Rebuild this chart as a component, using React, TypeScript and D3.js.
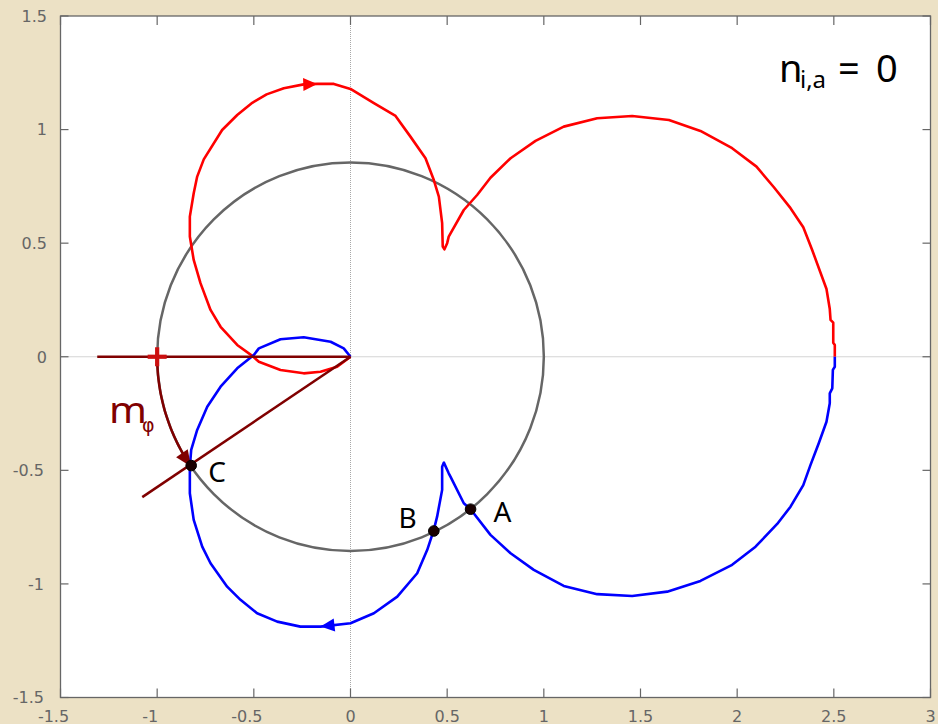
import React from 'react';
import * as d3 from 'd3';

// Axis ticks
const X_TICKS = [-1.5, -1, -0.5, 0, 0.5, 1, 1.5, 2, 2.5, 3];
const Y_TICKS = [-1.5, -1, -0.5, 0, 0.5, 1, 1.5];

// Upper trajectory (red): origin -> left loop -> top -> cusp -> large loop -> (2.5, 0)
const RED_X = [0, -0.069, -0.155, -0.242, -0.362, -0.474, -0.508, -0.586, -0.672, -0.724, -0.776, -0.811, -0.831, -0.831, -0.811, -0.793, -0.759, -0.664, -0.586, -0.508, -0.434, -0.345, -0.242, -0.172, -0.086, 0.0, 0.121, 0.233, 0.31, 0.388, 0.431, 0.457, 0.474, 0.477, 0.486, 0.5, 0.508, 0.586, 0.655, 0.724, 0.828, 0.957, 1.103, 1.276, 1.457, 1.647, 1.81, 1.974, 2.1, 2.19, 2.276, 2.342, 2.388, 2.462, 2.479, 2.483, 2.497, 2.497, 2.505, 2.505];
const RED_Y = [0, -0.044, -0.066, -0.073, -0.058, -0.022, 0.004, 0.052, 0.132, 0.206, 0.324, 0.426, 0.529, 0.617, 0.72, 0.793, 0.869, 0.998, 1.064, 1.118, 1.155, 1.182, 1.199, 1.201, 1.201, 1.179, 1.116, 1.06, 0.969, 0.874, 0.778, 0.705, 0.588, 0.485, 0.473, 0.5, 0.529, 0.646, 0.712, 0.788, 0.874, 0.95, 1.013, 1.05, 1.06, 1.042, 0.994, 0.918, 0.837, 0.746, 0.654, 0.57, 0.47, 0.298, 0.21, 0.162, 0.15, 0.062, 0.052, 0.0];

// Lower trajectory (blue): (2.5, 0) -> large loop -> cusp -> bottom -> left loop -> origin
const BLUE_X = [2.505, 2.505, 2.495, 2.492, 2.479, 2.479, 2.462, 2.422, 2.379, 2.342, 2.276, 2.207, 2.095, 1.974, 1.81, 1.638, 1.457, 1.276, 1.103, 0.948, 0.828, 0.724, 0.621, 0.586, 0.517, 0.508, 0.483, 0.474, 0.474, 0.448, 0.431, 0.397, 0.345, 0.242, 0.121, 0.0, -0.155, -0.259, -0.379, -0.483, -0.569, -0.638, -0.724, -0.767, -0.811, -0.831, -0.831, -0.824, -0.793, -0.741, -0.672, -0.586, -0.5, -0.474, -0.362, -0.242, -0.103, -0.035, 0];
const BLUE_Y = [0.0, -0.044, -0.058, -0.139, -0.161, -0.205, -0.286, -0.381, -0.477, -0.565, -0.66, -0.736, -0.836, -0.916, -0.987, -1.034, -1.053, -1.045, -1.009, -0.938, -0.865, -0.784, -0.671, -0.645, -0.528, -0.513, -0.466, -0.484, -0.586, -0.704, -0.762, -0.85, -0.953, -1.056, -1.129, -1.173, -1.188, -1.188, -1.166, -1.129, -1.07, -1.012, -0.909, -0.836, -0.718, -0.601, -0.484, -0.41, -0.322, -0.22, -0.132, -0.051, 0.008, 0.037, 0.077, 0.086, 0.066, 0.037, 0];

// Direction arrows sit on these vertices of each trajectory
const RED_ARROW_INDEX = 23;
const BLUE_ARROW_INDEX = 36;

// Reference circle semi-axes (data units)
const CIRCLE_RX = 1;
const CIRCLE_RY = 0.855;

// Marked intersection points
const POINT_NAMES = ['A', 'B', 'C'];
const POINT_X = [0.621, 0.431, -0.824];
const POINT_Y = [-0.671, -0.767, -0.479];

// Angle sweep m_phi along the circle, from (-1, 0) down to C
const PHI = 0.6;
const RAY_END_X = -1.077;
const RAY_END_Y = -0.618;
const HORIZ_START_X = -1.31;

const W = 938;
const H = 724;
const LEFT = 60.5;
const RIGHT = 930.5;
const TOP = 16;
const BOTTOM = 697.5;

const BG = 'rgb(236,225,197)';
const DARK_RED = '#800000';
const AXIS_GREY = '#666666';
const LABEL_FONT = '"Noto Sans", "Open Sans", sans-serif';

function arrowPath(tipX: number, tipY: number, dx: number, dy: number, len: number, half: number) {
  const n = Math.hypot(dx, dy) || 1;
  const ux = dx / n;
  const uy = dy / n;
  const bx = tipX - ux * len;
  const by = tipY - uy * len;
  const px = -uy;
  const py = ux;
  return `M${tipX},${tipY}L${bx + px * half},${by + py * half}L${bx - px * half},${by - py * half}Z`;
}

export default function App() {
  const x = d3.scaleLinear().domain([-1.5, 3]).range([LEFT, RIGHT]);
  const y = d3.scaleLinear().domain([-1.5, 1.5]).range([BOTTOM, TOP]);

  const line = d3
    .line<[number, number]>()
    .x((d) => x(d[0]))
    .y((d) => y(d[1]));

  const red: [number, number][] = RED_X.map((v, i) => [v, RED_Y[i]]);
  const blue: [number, number][] = BLUE_X.map((v, i) => [v, BLUE_Y[i]]);

  // Arrow heads along the trajectories
  const ra = red[RED_ARROW_INDEX];
  const rp = red[RED_ARROW_INDEX - 1];
  const redArrow = arrowPath(x(ra[0]), y(ra[1]), x(ra[0]) - x(rp[0]), y(ra[1]) - y(rp[1]), 14, 6.5);
  const ba = blue[BLUE_ARROW_INDEX];
  const bp = blue[BLUE_ARROW_INDEX - 1];
  const blueArrow = arrowPath(x(ba[0]), y(ba[1]), x(ba[0]) - x(bp[0]), y(ba[1]) - y(bp[1]), 14, 6.5);

  // Sweep arc along the circle
  const arcPts: [number, number][] = d3
    .range(0, 41)
    .map((i) => Math.PI + (PHI * i) / 40)
    .map((t) => [CIRCLE_RX * Math.cos(t), CIRCLE_RY * Math.sin(t)]);
  const tEnd = Math.PI + PHI;
  const tipX = x(CIRCLE_RX * Math.cos(tEnd));
  const tipY = y(CIRCLE_RY * Math.sin(tEnd));
  const tdx = x(-CIRCLE_RX * Math.sin(tEnd)) - x(0);
  const tdy = y(CIRCLE_RY * Math.cos(tEnd)) - y(0);
  const arcArrow = arrowPath(tipX, tipY, tdx, tdy, 16, 7);

  const labelOffsets: Record<string, [number, number, string]> = {
    A: [23, 13, 'start'],
    B: [-17, -3, 'end'],
    C: [17, 16, 'start'],
  };

  const x0 = x(0);
  const y0 = y(0);

  return (
    <svg
      width={W}
      height={H}
      viewBox={`0 0 ${W} ${H}`}
      style={{ position: 'absolute', left: 0, top: 0, display: 'block' }}
    >
      <rect x={0} y={0} width={W} height={H} fill={BG} />
      <rect x={LEFT} y={TOP} width={RIGHT - LEFT} height={BOTTOM - TOP} fill="#ffffff" />

      {/* zero reference lines */}
      <line x1={x0} x2={x0} y1={TOP} y2={BOTTOM} stroke="#a8a8a8" strokeWidth={1} strokeDasharray="1,1" />
      <line x1={LEFT} x2={RIGHT} y1={y0} y2={y0} stroke="#a8a8a8" strokeWidth={1} strokeDasharray="1,1" />

      {/* reference circle */}
      <ellipse
        cx={x0}
        cy={y0}
        rx={x(CIRCLE_RX) - x0}
        ry={y0 - y(CIRCLE_RY)}
        fill="none"
        stroke="#666666"
        strokeWidth={2.5}
      />

      {/* trajectories */}
      <path d={line(red) ?? ''} fill="none" stroke="#ff0000" strokeWidth={2.6} strokeLinejoin="round" />
      <path d={line(blue) ?? ''} fill="none" stroke="#0000ff" strokeWidth={2.6} strokeLinejoin="round" />
      <path d={redArrow} fill="#ff0000" />
      <path d={blueArrow} fill="#0000ff" />

      {/* angle construction */}
      <line x1={x(HORIZ_START_X)} x2={x0} y1={y0} y2={y0} stroke={DARK_RED} strokeWidth={2.5} />
      <line x1={x0} y1={y0} x2={x(RAY_END_X)} y2={y(RAY_END_Y)} stroke={DARK_RED} strokeWidth={2.5} />
      <path d={line(arcPts) ?? ''} fill="none" stroke={DARK_RED} strokeWidth={2.5} />
      <path d={arcArrow} fill={DARK_RED} />
      <g stroke="#cc1010" strokeWidth={4.2}>
        <line x1={x(-1) - 9.5} x2={x(-1) + 9.5} y1={y0} y2={y0} />
        <line x1={x(-1)} x2={x(-1)} y1={y0 - 9.5} y2={y0 + 9.5} />
      </g>
      <text x={109} y={423} fill={DARK_RED} fontFamily={LABEL_FONT} fontSize={37} textLength={38} lengthAdjust="spacingAndGlyphs">
        m
      </text>
      <text x={142} y={432} fill={DARK_RED} fontFamily='"DejaVu Sans", sans-serif' fontSize={19}>
        φ
      </text>

      {/* marked points */}
      {POINT_NAMES.map((name, i) => {
        const [dx, dy, anchor] = labelOffsets[name];
        const cx = x(POINT_X[i]);
        const cy = y(POINT_Y[i]);
        return (
          <g key={name}>
            <circle cx={cx} cy={cy} r={5.3} fill="#1a0000" stroke="#000" strokeWidth={1} />
            <text x={cx + dx} y={cy + dy} fontFamily={LABEL_FONT} fontSize={28} fill="#000" textAnchor={anchor}>
              {name}
            </text>
          </g>
        );
      })}

      {/* annotation */}
      <g fontFamily={LABEL_FONT} fill="#000">
        <text x={779} y={82} fontSize={38}>n</text>
        <text x={800} y={88} fontSize={24}>i,a</text>
        <text x={838} y={82} fontSize={38}>=</text>
        <text x={876} y={82} fontSize={38}>0</text>
      </g>

      {/* axes box and ticks */}
      <rect x={LEFT} y={TOP} width={RIGHT - LEFT} height={BOTTOM - TOP} fill="none" stroke={AXIS_GREY} strokeWidth={1.3} />
      <g stroke={AXIS_GREY} strokeWidth={1.2}>
        {X_TICKS.map((t) => (
          <g key={`xt${t}`}>
            <line x1={x(t)} x2={x(t)} y1={BOTTOM} y2={BOTTOM - 9} />
            <line x1={x(t)} x2={x(t)} y1={TOP} y2={TOP + 9} />
          </g>
        ))}
        {Y_TICKS.map((t) => (
          <g key={`yt${t}`}>
            <line x1={LEFT} x2={LEFT + 8} y1={y(t)} y2={y(t)} />
            <line x1={RIGHT} x2={RIGHT - 8} y1={y(t)} y2={y(t)} />
          </g>
        ))}
      </g>
      <g fontFamily='"DejaVu Sans", sans-serif' fontSize={16} fill="#666666">
        {X_TICKS.map((t) => (
          <text key={`xl${t}`} x={x(t) + (t < 0 ? -7 : 0)} y={722} textAnchor="middle">
            {String(t)}
          </text>
        ))}
        {Y_TICKS.map((t) => (
          <text key={`yl${t}`} x={t < 0 ? 44 : 47} y={y(t)} dy="0.36em" textAnchor="end">
            {String(t)}
          </text>
        ))}
      </g>
    </svg>
  );
}
